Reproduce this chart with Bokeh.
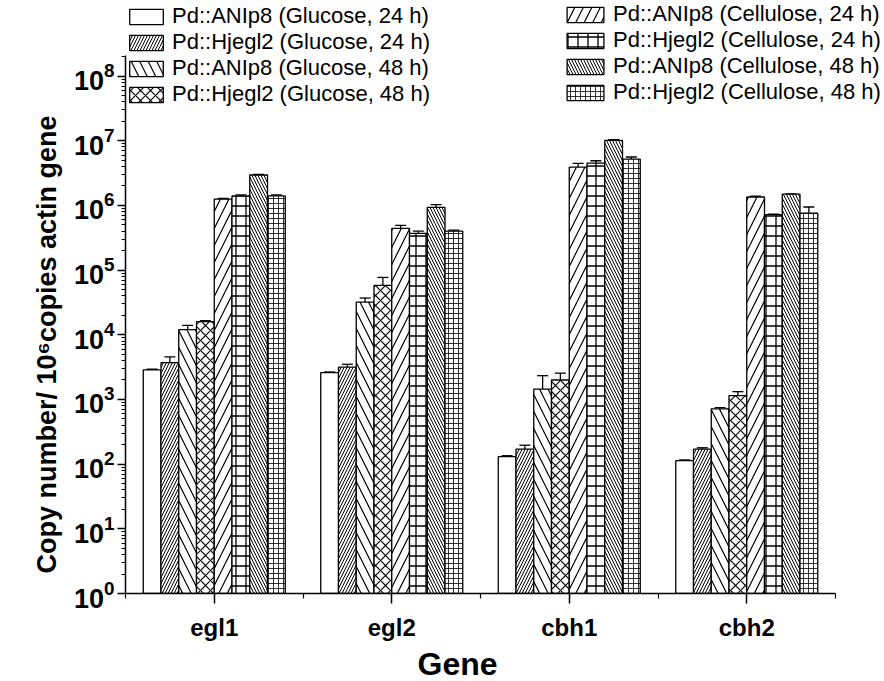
from bokeh.plotting import figure
from bokeh.models import (ColumnDataSource, Whisker, TeeHead, Legend, LegendItem,
                          FixedTicker, Range1d, Title)
from bokeh.embed import file_html
from bokeh.resources import INLINE

genes = ["egl1", "egl2", "cbh1", "cbh2"]
series_labels = [
    "Pd::ANIp8 (Glucose, 24 h)",
    "Pd::Hjegl2 (Glucose, 24 h)",
    "Pd::ANIp8 (Glucose, 48 h)",
    "Pd::Hjegl2 (Glucose, 48 h)",
    "Pd::ANIp8 (Cellulose, 24 h)",
    "Pd::Hjegl2 (Cellulose, 24 h)",
    "Pd::ANIp8 (Cellulose, 48 h)",
    "Pd::Hjegl2 (Cellulose, 48 h)",
]
y_title = "Copy number/ 10\u2076copies actin gene"
x_title = "Gene"

anip8_glc24 = [2860, 2600, 131, 113]
hjegl2_glc24 = [3700, 3150, 171, 171]
anip8_glc48 = [12000, 32000, 1440, 716]
hjegl2_glc48 = [16000, 58000, 2000, 1150]
anip8_cel24 = [1.25e6, 4.4e5, 3.9e6, 1.35e6]
hjegl2_cel24 = [1.4e6, 3.7e5, 4.5e6, 7.2e5]
anip8_cel48 = [2.95e6, 9.3e5, 1.01e7, 1.49e6]
hjegl2_cel48 = [1.4e6, 4.0e5, 5.2e6, 7.6e5]

err_anip8_glc24 = [80, 60, 4, 3]
err_hjegl2_glc24 = [850, 350, 25, 8]
err_anip8_glc48 = [2000, 5000, 890, 30]
err_hjegl2_glc48 = [600, 19000, 550, 170]
err_anip8_cel24 = [3e4, 5e4, 5.5e5, 4e4]
err_hjegl2_cel24 = [5e4, 3e4, 4e5, 1.5e4]
err_anip8_cel48 = [6e4, 1e5, 3e5, 2e4]
err_hjegl2_cel48 = [5e4, 1.5e4, 4e5, 1.85e5]

values = [anip8_glc24, hjegl2_glc24, anip8_glc48, hjegl2_glc48,
          anip8_cel24, hjegl2_cel24, anip8_cel48, hjegl2_cel48]
errors = [err_anip8_glc24, err_hjegl2_glc24, err_anip8_glc48, err_hjegl2_glc48,
          err_anip8_cel24, err_hjegl2_cel24, err_anip8_cel48, err_hjegl2_cel48]

styles = [
    dict(hatch_pattern=None),
    dict(hatch_pattern="/", hatch_scale=6, hatch_weight=1.0),
    dict(hatch_pattern="\\", hatch_scale=17, hatch_weight=1.2),
    dict(hatch_pattern="x", hatch_scale=10, hatch_weight=1.2),
    dict(hatch_pattern="/", hatch_scale=17, hatch_weight=1.2),
    dict(hatch_pattern="+", hatch_scale=10, hatch_weight=1.3),
    dict(hatch_pattern="\\", hatch_scale=6, hatch_weight=1.0),
    dict(hatch_pattern="+", hatch_scale=5, hatch_weight=0.8),
]

FONT = "Liberation Sans"
bar_w = 0.1
Y_TOP = 10 ** (595 / 64.9)
AXIS_TOP = 2.1e8
X_END = 0.5 + (884 - 125) / 177.5

p = figure(width=884, height=681, y_axis_type="log",
           x_range=Range1d(0.5, X_END), y_range=Range1d(1, Y_TOP),
           output_backend="svg", toolbar_location=None,
           min_border_left=125, min_border_right=0,
           min_border_top=0, min_border_bottom=86)
p.outline_line_color = None
p.xgrid.visible = False
p.ygrid.visible = False
p.background_fill_color = "white"
p.border_fill_color = "white"

renderers = []
xs_base = [1, 2, 3, 4]
for k in range(8):
    off = -0.35 + 0.1 * k
    xs = [x + off for x in xs_base]
    v = values[k]
    e = errors[k]
    src = ColumnDataSource(dict(x=xs, top=v, upper=[a + b for a, b in zip(v, e)],
                                lower=[max(a - b, 1.01) for a, b in zip(v, e)]))
    r = p.vbar(x="x", top="top", bottom=1, width=bar_w, source=src,
               fill_color="white", line_color="black", line_width=1.3,
               hatch_color="black", **styles[k])
    renderers.append(r)
    w = Whisker(base="x", upper="upper", lower="lower", source=src,
                dimension="height", line_color="black", line_width=1.3,
                upper_head=TeeHead(size=11, line_color="black", line_width=1.3),
                lower_head=TeeHead(size=11, line_color="black", line_width=1.3))
    p.add_layout(w)

# axes
yax = p.yaxis[0]
yax.bounds = (1, AXIS_TOP)
yax.ticker = FixedTicker(ticks=[10 ** i for i in range(9)],
                         minor_ticks=[m * 10 ** i for i in range(9) for m in range(2, 10)
                                      if m * 10 ** i < AXIS_TOP])
yax.major_label_text_font = FONT
yax.major_label_text_font_style = "bold"
yax.major_label_text_font_size = "27px"
yax.major_label_text_color = "black"
yax.major_label_standoff = 3
yax.major_tick_out = 8
yax.major_tick_in = 0
yax.minor_tick_out = 4
yax.minor_tick_in = 0
yax.axis_line_width = 1.5
yax.major_tick_line_width = 1.5
yax.minor_tick_line_width = 1.0

y_lab = Title(text=y_title, align="left", offset=20, text_font=FONT,
              text_font_style="bold", text_font_size="27px", text_color="black",
              standoff=18)
p.add_layout(y_lab, "left")

xax = p.xaxis[0]
xax.bounds = (0.5, 4.5)
xax.ticker = FixedTicker(ticks=[1, 2, 3, 4], minor_ticks=[0.5, 1.5, 2.5, 3.5, 4.5])
xax.major_label_overrides = {i + 1: g for i, g in enumerate(genes)}
xax.major_label_text_font = FONT
xax.major_label_text_font_style = "bold"
xax.major_label_text_font_size = "24px"
xax.major_label_text_color = "black"
xax.major_label_standoff = 10
xax.major_tick_out = 10
xax.major_tick_in = 0
xax.minor_tick_out = 5
xax.minor_tick_in = 0
xax.axis_line_width = 1.5
xax.major_tick_line_width = 1.5
xax.minor_tick_line_width = 1.2

gene_title = Title(text=x_title, align="left", offset=292, text_font=FONT,
                   text_font_style="bold", text_font_size="32px", text_color="black",
                   standoff=0)
p.add_layout(gene_title, "below")


def make_legend(idx, loc, gw):
    items = [LegendItem(label=series_labels[i], renderers=[renderers[i]]) for i in idx]
    lg = Legend(items=items, location=loc, orientation="vertical",
                glyph_width=gw, glyph_height=19, spacing=-1, padding=0, margin=0,
                label_standoff=5, label_text_font=FONT, label_text_font_size="22px",
                label_text_color="black", label_height=25,
                background_fill_alpha=0, border_line_color=None)
    return lg


p.add_layout(make_legend([0, 1, 2, 3], (0, 486), 42), "center")
p.add_layout(make_legend([4, 5, 6, 7], (437, 488), 46), "center")

open("out.html", "w").write(file_html(p, INLINE))
